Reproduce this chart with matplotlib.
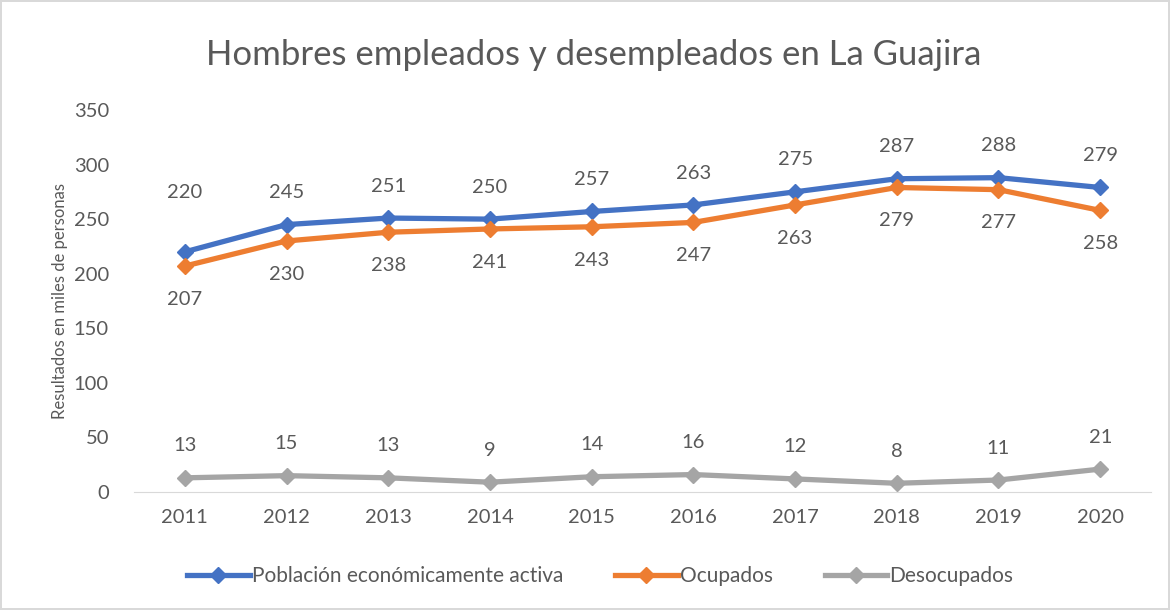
import matplotlib
matplotlib.use("Agg")
import matplotlib.pyplot as plt
from matplotlib.lines import Line2D

years = ["2011", "2012", "2013", "2014", "2015", "2016", "2017", "2018", "2019", "2020"]
pea = [220, 245, 251, 250, 257, 263, 275, 287, 288, 279]
ocupados = [207, 230, 238, 241, 243, 247, 263, 279, 277, 258]
desocupados = [13, 15, 13, 9, 14, 16, 12, 8, 11, 21]

plt.rcParams['font.family'] = ['Lato', 'DejaVu Sans']
txt = '#595959'

fig = plt.figure(figsize=(11.7, 6.1), dpi=100)
fig.patch.set_edgecolor('#d9d9d9')
fig.patch.set_linewidth(1.5)
ax = fig.add_axes([0.1145, 0.1934, 0.8693, 0.6263])

x = list(range(len(years)))
series = [(pea, '#4472C4', 'Población económicamente activa', 23),
          (ocupados, '#ED7D31', 'Ocupados', -24),
          (desocupados, '#A5A5A5', 'Desocupados', 23)]
for vals, col, name, off in series:
    ax.plot(x, vals, color=col, lw=3.8, marker='D', ms=8, label=name)
    for i, v in enumerate(vals):
        o = off
        if vals is pea and i == 0:
            o = 43  # label moved up in the original
        ax.annotate(str(v), (i, v), xytext=(0, o), textcoords='offset points',
                    ha='center', va='center', fontsize=14.5, color=txt)

ax.set_xlim(-0.5, len(years) - 0.5)
ax.set_ylim(0, 350)
ax.set_xticks(x)
ax.set_xticklabels(years)
ax.set_yticks(range(0, 351, 50))
ax.tick_params(axis='both', length=0, labelsize=14.5, colors=txt)
ax.tick_params(axis='y', pad=18)
ax.tick_params(axis='x', pad=12)
for s in ['top', 'right', 'left']:
    ax.spines[s].set_visible(False)
ax.spines['bottom'].set_color('#d9d9d9')

ax.set_ylabel('Resultados en miles de personas', fontsize=12, color=txt, labelpad=4)
fig.text(0.507, 0.91, 'Hombres empleados y desempleados en La Guajira', ha='center', va='center',
         fontsize=25, color=txt)

handles = [Line2D([], [], color=c, lw=3.8, marker='D', ms=8) for _, c, _, _ in series]
fig.legend(handles, [n for _, _, n, _ in series], loc='center', bbox_to_anchor=(0.513, 0.055),
           ncol=3, frameon=False, fontsize=15, labelcolor=txt, handlelength=3,
           handletextpad=0.1, columnspacing=2.5)

fig.savefig('out.png', dpi=100)
